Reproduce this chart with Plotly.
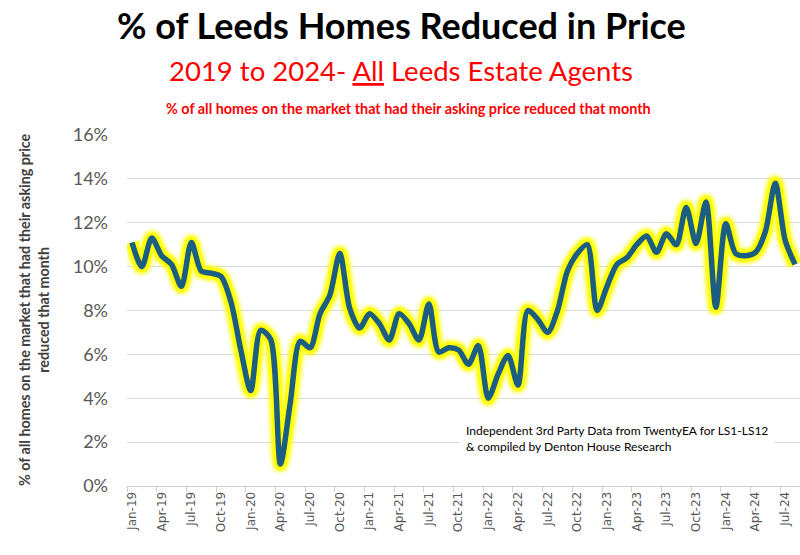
import plotly.graph_objects as go

months = [
    "Jan-19", "Feb-19", "Mar-19", "Apr-19", "May-19", "Jun-19", "Jul-19", "Aug-19", "Sep-19", "Oct-19", "Nov-19", "Dec-19",
    "Jan-20", "Feb-20", "Mar-20", "Apr-20", "May-20", "Jun-20", "Jul-20", "Aug-20", "Sep-20", "Oct-20", "Nov-20", "Dec-20",
    "Jan-21", "Feb-21", "Mar-21", "Apr-21", "May-21", "Jun-21", "Jul-21", "Aug-21", "Sep-21", "Oct-21", "Nov-21", "Dec-21",
    "Jan-22", "Feb-22", "Mar-22", "Apr-22", "May-22", "Jun-22", "Jul-22", "Aug-22", "Sep-22", "Oct-22", "Nov-22", "Dec-22",
    "Jan-23", "Feb-23", "Mar-23", "Apr-23", "May-23", "Jun-23", "Jul-23", "Aug-23", "Sep-23", "Oct-23", "Nov-23", "Dec-23",
    "Jan-24", "Feb-24", "Mar-24", "Apr-24", "May-24", "Jun-24", "Jul-24", "Aug-24",
]

pct_reduced = [
    11.1, 10.0, 11.3, 10.5, 10.1, 9.1, 11.1, 9.8, 9.7, 9.55, 8.4, 6.2,
    4.35, 7.1, 6.7, 1.0, 3.8, 6.6, 6.3, 7.85, 8.7, 10.6, 8.1, 7.2,
    7.85, 7.4, 6.65, 7.85, 7.4, 6.65, 8.3, 6.1, 6.3, 6.2, 5.55, 6.4,
    4.0, 5.1, 5.95, 4.6, 8.0, 7.6, 7.0, 8.0, 9.8, 10.6, 11.0, 8.0,
    9.1, 10.1, 10.4, 11.0, 11.4, 10.65, 11.5, 11.0, 12.7, 11.05, 12.95, 8.15,
    11.95, 10.6, 10.5, 10.65, 11.6, 13.8, 11.2, 10.1,
]

y_ticks = [0, 2, 4, 6, 8, 10, 12, 14, 16]

title_text = "<b>% of Leeds Homes Reduced in Price</b>"
subtitle_text = "2019 to 2024- <u>All</u> Leeds Estate Agents"
note_text = "<b>% of all homes on the market that had their asking price reduced that month</b>"
ytitle_text = "<b>% of all homes on the market that had their asking price<br>reduced that month</b>"
source_text = "Independent 3rd Party Data from TwentyEA for LS1-LS12<br>& compiled by Denton House Research"

x_idx = list(range(len(months)))
label_idx = x_idx[::3]
label_txt = months[::3]
boundaries = [i - 0.5 for i in range(0, len(months) + 1, 3)]

fig = go.Figure()

# yellow glow layers
for w, op in [(21, 0.15), (17, 0.3), (14, 0.55), (11, 1.0)]:
    fig.add_trace(go.Scatter(
        x=x_idx, y=pct_reduced, mode="lines",
        line=dict(color="#FFFF00", width=w, shape="spline", smoothing=0.8),
        opacity=op, hoverinfo="skip", showlegend=False,
    ))

fig.add_trace(go.Scatter(
    x=x_idx, y=pct_reduced, mode="lines",
    line=dict(color="#1C5E82", width=5.5, shape="spline", smoothing=0.8),
    showlegend=False,
))

PL, PT, PH, PW = 127, 135, 351, 673

fig.update_layout(
    width=800, height=555,
    margin=dict(l=PL, r=0, t=PT, b=555 - PT - PH),
    paper_bgcolor="white", plot_bgcolor="white",
    font=dict(family="Lato", color="#595959"),
    xaxis=dict(
        range=[-0.5, len(months) - 0.5],
        tickmode="array", tickvals=label_idx, ticktext=label_txt,
        tickangle=-90, ticks="",
        tickfont=dict(family="DejaVu Sans", size=12, color="#595959"),
        showgrid=False, zeroline=False,
        showline=True, linecolor="#d0d0d0", linewidth=1,
        minor=dict(tickmode="array", tickvals=boundaries, ticks="outside",
                   ticklen=5, tickcolor="#d0d0d0", tickwidth=1, showgrid=False),
        automargin=False,
    ),
    yaxis=dict(
        range=[0, 16], tickmode="array", tickvals=y_ticks,
        ticktext=[f"{v}%" for v in y_ticks],
        tickfont=dict(family="Lato", size=18, color="#595959"),
        showgrid=True, gridcolor="#d9d9d9", gridwidth=1,
        zeroline=False, showline=False, ticks="",
        ticklabelstandoff=18, automargin=False,
    ),
    annotations=[
        dict(text=title_text, xref="paper", yref="paper", x=(401 - PL) / PW, y=1 + (PT - 25) / PH,
             xanchor="center", yanchor="middle", showarrow=False,
             font=dict(family="Lato", size=36, color="black")),
        dict(text=subtitle_text, xref="paper", yref="paper", x=(401 - PL) / PW, y=1 + (PT - 71) / PH,
             xanchor="center", yanchor="middle", showarrow=False,
             font=dict(family="Lato", size=27.5, color="#FF0000")),
        dict(text=note_text, xref="paper", yref="paper", x=(408 - PL) / PW, y=1 + (PT - 108) / PH,
             xanchor="center", yanchor="middle", showarrow=False,
             font=dict(family="Lato", size=14.4, color="#FF0000")),
        dict(text=ytitle_text, xref="paper", yref="paper", x=(34 - PL) / PW, y=(PT + PH - 310) / PH,
             xanchor="center", yanchor="middle", showarrow=False, textangle=-90,
             font=dict(family="Lato", size=14.3, color="#404040")),
        dict(text=source_text, xref="paper", yref="paper", x=(459 - PL) / PW, y=(PT + PH - 438) / PH,
             xanchor="left", yanchor="middle", showarrow=False, align="left",
             bgcolor="white", borderpad=6,
             font=dict(family="Lato", size=12, color="black")),
    ],
)

fig.write_html("out.html", config={"displayModeBar": False},
               post_script="document.body.style.margin='0px';document.body.style.overflow='hidden';")
